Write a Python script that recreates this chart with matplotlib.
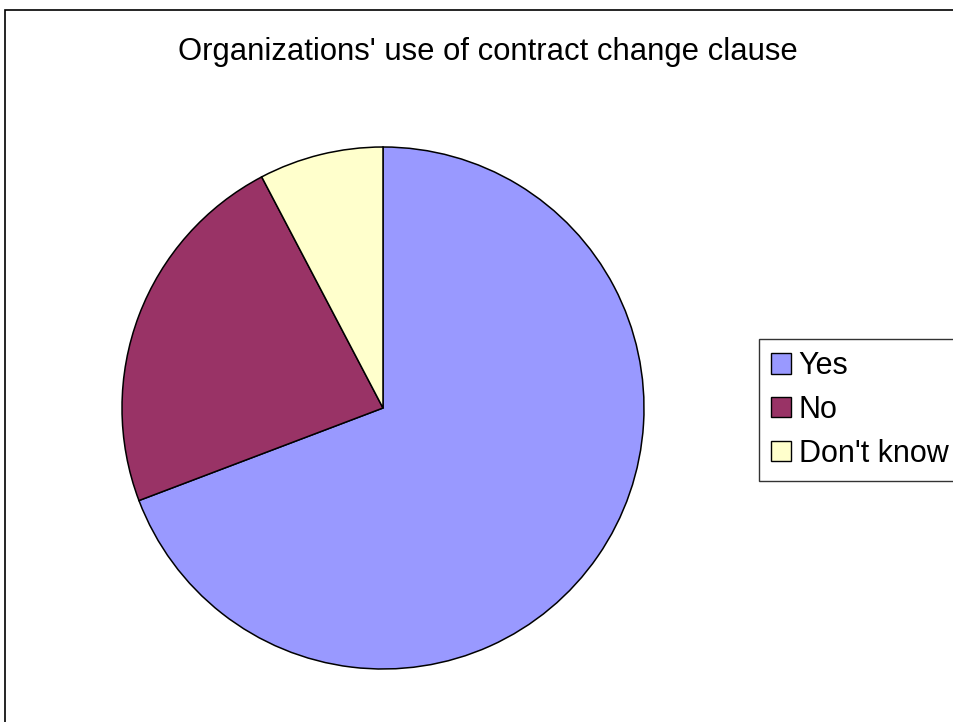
import matplotlib
matplotlib.use("Agg")
import matplotlib.pyplot as plt
from matplotlib.patches import Patch, Rectangle

# Survey responses
categories = ["Yes", "No", "Don't know"]
counts = [9, 3, 1]
colors = ["#9999FF", "#993366", "#FFFFCC"]
title = "Organizations' use of contract change clause"

plt.rcParams["font.family"] = ["Liberation Sans", "DejaVu Sans"]

W, H = 954, 722
fig = plt.figure(figsize=(W / 100, H / 100), dpi=100)

# chart-area border (open toward the right and bottom edges)
fig.add_artist(Rectangle((5 / W, -0.05), 1.2, 1.05 - 10 / H,
                         transform=fig.transFigure, fill=False,
                         edgecolor="black", linewidth=1.2))

cx, cy, r = 383, 408, 261
ax = fig.add_axes([(cx - r) / W, (H - cy - r) / H, 2 * r / W, 2 * r / H])
ax.pie(counts, colors=colors, startangle=90, counterclock=False,
       wedgeprops=dict(edgecolor="black", linewidth=1.1))
ax.set_xlim(-1, 1)
ax.set_ylim(-1, 1)
ax.set_aspect("equal")
ax.axis("off")

fig.text(488 / W, 1 - 52 / H, title, ha="center", va="center", fontsize=22.3)

handles = [Patch(facecolor=c, edgecolor="black", linewidth=1.0) for c in colors]
leg = fig.legend(handles, categories, loc="upper left",
                 bbox_to_anchor=(759 / W, 1 - 339 / H), fontsize=22,
                 frameon=True, fancybox=False, shadow=False,
                 handlelength=0.65, handleheight=0.65, handletextpad=0.25,
                 labelspacing=0.45, borderpad=0.4, borderaxespad=0)
leg.get_frame().set_edgecolor("black")
leg.get_frame().set_linewidth(1.0)

fig.savefig("out.png", dpi=100)
